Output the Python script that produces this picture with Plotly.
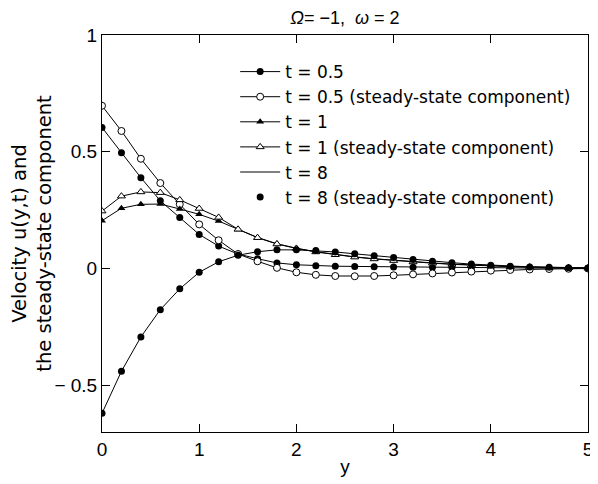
import plotly.graph_objects as go

# sampling points along y
y_pts = [0.0, 0.2, 0.4, 0.6, 0.8, 1.0, 1.2, 1.4, 1.6, 1.8, 2.0, 2.2, 2.4, 2.6,
         2.8, 3.0, 3.2, 3.4, 3.6, 3.8, 4.0, 4.2, 4.4, 4.6, 4.8, 5.0]

u_t05 = [0.604, 0.496, 0.389, 0.290, 0.218, 0.146, 0.096, 0.062, 0.042, 0.024,
         0.016, 0.012, 0.010, 0.009, 0.008, 0.007, 0.006, 0.005, 0.004, 0.003,
         0.003, 0.002, 0.002, 0.001, 0.001, 0.000]
ss_t05 = [0.697, 0.589, 0.470, 0.366, 0.275, 0.189, 0.121, 0.062, 0.031, 0.003,
          -0.016, -0.027, -0.032, -0.033, -0.032, -0.029, -0.025, -0.021, -0.017, -0.013,
          -0.009, -0.006, -0.004, -0.002, -0.001, 0.000]
u_t1 = [0.205, 0.258, 0.275, 0.276, 0.255, 0.232, 0.203, 0.167, 0.133, 0.106,
        0.087, 0.072, 0.060, 0.050, 0.042, 0.035, 0.029, 0.024, 0.019, 0.015,
        0.012, 0.009, 0.007, 0.005, 0.004, 0.003]
ss_t1 = [0.246, 0.310, 0.328, 0.325, 0.294, 0.257, 0.219, 0.168, 0.132, 0.105,
         0.086, 0.071, 0.059, 0.049, 0.041, 0.034, 0.028, 0.023, 0.018, 0.014,
         0.011, 0.008, 0.006, 0.004, 0.003, 0.002]
u_t8 = [-0.620, -0.440, -0.293, -0.176, -0.087, -0.016, 0.029, 0.057, 0.072, 0.080,
        0.080, 0.077, 0.071, 0.063, 0.055, 0.047, 0.039, 0.031, 0.025, 0.019,
        0.014, 0.010, 0.007, 0.005, 0.003, 0.002]
ss_t8 = u_t8[:]

names = ["t = 0.5", "t = 0.5 (steady-state component)", "t = 1",
         "t = 1 (steady-state component)", "t = 8", "t = 8 (steady-state component)"]

FONT = "Liberation Sans, Arial, sans-serif"
WIDE = "DejaVu Sans, sans-serif"

fig = go.Figure()
line = dict(color="black", width=1)
fig.add_trace(go.Scatter(x=y_pts, y=u_t05, mode="lines+markers", name=names[0], line=line,
                         marker=dict(symbol="circle", size=7, color="black")))
fig.add_trace(go.Scatter(x=y_pts, y=ss_t05, mode="lines+markers", name=names[1], line=line,
                         marker=dict(symbol="circle", size=7, color="white",
                                     line=dict(color="black", width=1))))
fig.add_trace(go.Scatter(x=y_pts, y=u_t1, mode="lines+markers", name=names[2], line=line,
                         marker=dict(symbol="triangle-up", size=7, color="black")))
fig.add_trace(go.Scatter(x=y_pts, y=ss_t1, mode="lines+markers", name=names[3], line=line,
                         marker=dict(symbol="triangle-up", size=7, color="white",
                                     line=dict(color="black", width=1))))
fig.add_trace(go.Scatter(x=y_pts, y=u_t8, mode="lines", name=names[4], line=line))
fig.add_trace(go.Scatter(x=y_pts, y=ss_t8, mode="markers", name=names[5],
                         marker=dict(symbol="circle", size=7, color="black")))

axis_common = dict(showline=True, linecolor="black", linewidth=1, mirror="ticks",
                   ticks="inside", ticklen=8, tickcolor="black", tickwidth=1,
                   showgrid=False, zeroline=False,
                   tickfont=dict(family=FONT, size=19, color="black"))

fig.update_xaxes(range=[0, 5], tickvals=[0, 1, 2, 3, 4, 5],
                 title=dict(text="y", font=dict(family=FONT, size=19, color="black"), standoff=0),
                 **axis_common)
fig.update_yaxes(range=[-0.7, 1], tickvals=[-0.5, 0, 0.5, 1],
                 ticktext=["\u2212 0.5", "0", "0.5", "1"],
                 title=dict(text="Velocity u(y,t) and<br>the steady-state component",
                            font=dict(family=WIDE, size=19.5, color="black"), standoff=3),
                 **axis_common)

fig.update_layout(
    width=590, height=476,
    margin=dict(l=94, r=10, t=27, b=52, autoexpand=False),
    paper_bgcolor="white", plot_bgcolor="white",
    title=dict(text="<i>\u03a9</i>= \u22121,  <i>\u03c9</i> = 2", x=0.571, xanchor="center",
               y=0.979, yanchor="middle",
               font=dict(family=FONT, size=18, color="black")),
    legend=dict(x=0.274, y=0.952, xanchor="left", yanchor="top",
                bgcolor="rgba(0,0,0,0)", borderwidth=0,
                font=dict(family=WIDE, size=17, color="black"),
                itemwidth=40, tracegroupgap=0),
    showlegend=True,
)

fig.write_html("out.html")
